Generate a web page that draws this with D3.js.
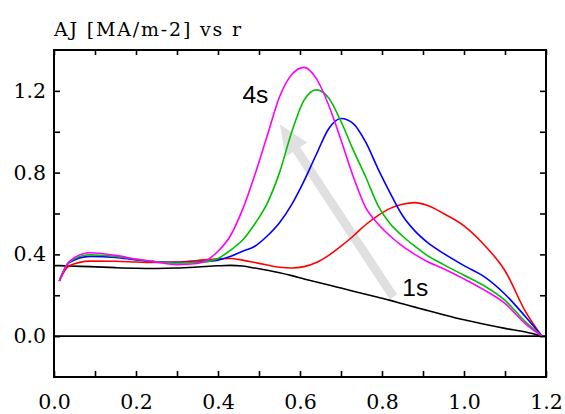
<!DOCTYPE html>
<html><head><meta charset="utf-8">
<script src="https://cdn.jsdelivr.net/npm/d3@7"></script>
<style>
html,body{margin:0;padding:0;background:#fff;}
svg{display:block;}
</style></head>
<body>
<svg id="chart" width="565" height="414"></svg>
<script>
// ---- data ----
const rValues = [0, 0.013, 0.037, 0.088, 0.15, 0.2, 0.25, 0.3, 0.35, 0.4, 0.43, 0.46, 0.49, 0.52, 0.55, 0.58, 0.61, 0.64, 0.67, 0.7, 0.73, 0.76, 0.79, 0.82, 0.85, 0.88, 0.91, 0.95, 1.0, 1.05, 1.1, 1.15, 1.19];
const black   = [0.345, 0.345, 0.343, 0.340, 0.335, 0.332, 0.331, 0.333, 0.338, 0.344, 0.346, 0.343, 0.333, 0.322, 0.310, 0.296, 0.280, 0.265, 0.250, 0.235, 0.220, 0.205, 0.190, 0.175, 0.158, 0.142, 0.126, 0.105, 0.080, 0.058, 0.038, 0.020, 0.0];
const red     = [null, 0.27, 0.344, 0.367, 0.366, 0.363, 0.360, 0.362, 0.370, 0.378, 0.380, 0.372, 0.360, 0.348, 0.337, 0.333, 0.340, 0.360, 0.395, 0.440, 0.490, 0.545, 0.590, 0.625, 0.645, 0.653, 0.640, 0.600, 0.540, 0.445, 0.320, 0.120, 0.0];
const blue    = [null, 0.27, 0.360, 0.390, 0.385, 0.373, 0.364, 0.360, 0.363, 0.372, 0.390, 0.415, 0.440, 0.490, 0.555, 0.645, 0.760, 0.890, 1.015, 1.065, 1.040, 0.950, 0.820, 0.700, 0.590, 0.515, 0.460, 0.405, 0.345, 0.290, 0.205, 0.095, 0.0];
const green   = [null, 0.27, 0.362, 0.398, 0.390, 0.376, 0.364, 0.358, 0.360, 0.380, 0.420, 0.470, 0.550, 0.650, 0.800, 1.000, 1.155, 1.205, 1.165, 1.050, 0.910, 0.780, 0.640, 0.550, 0.490, 0.440, 0.395, 0.350, 0.298, 0.245, 0.175, 0.070, 0.0];
const magenta = [null, 0.27, 0.365, 0.408, 0.395, 0.377, 0.362, 0.350, 0.355, 0.415, 0.490, 0.620, 0.790, 0.980, 1.170, 1.280, 1.315, 1.260, 1.130, 0.960, 0.780, 0.630, 0.550, 0.490, 0.440, 0.400, 0.365, 0.330, 0.280, 0.225, 0.160, 0.060, 0.0];
const seriesNames  = ["1s", "2s", "3s", "3.5s", "4s"];
const seriesColors = ["#000000", "#ff0000", "#0000ff", "#00c000", "#ff00ff"];
const xTickValues = [0, 0.1, 0.2, 0.3, 0.4, 0.5, 0.6, 0.7, 0.8, 0.9, 1.0, 1.1, 1.2];
const xTickLabels = ["0.0", "", "0.2", "", "0.4", "", "0.6", "", "0.8", "", "1.0", "", "1.2"];
const yTickValues = [0, 0.2, 0.4, 0.6, 0.8, 1.0, 1.2];
const yTickLabels = ["0.0", "", "0.4", "", "0.8", "", "1.2"];
const titleText = "AJ [MA/m-2] vs r";
// annotation arrow (data coordinates): from 1s toward 4s
const arrowFrom = [0.828, 0.192];
const arrowTo   = [0.551, 1.035];
const label1s = [0.8495, 0.196];
const label4s = [0.4595, 1.143];

// ---- layout ----
const W = 565, H = 414;
const margin = {left: 54, right: 19, top: 50, bottom: 37};
const svg = d3.select("#chart");
const x = d3.scaleLinear().domain([0, 1.2]).range([margin.left, W - margin.right]);
const y = d3.scaleLinear().domain([-0.2, 1.4]).range([H - margin.bottom, margin.top]);
const tickFont = "'DejaVu Serif', serif";

// zero line
svg.append("line")
  .attr("x1", x(0)).attr("x2", x(1.2))
  .attr("y1", y(0)).attr("y2", y(0))
  .attr("stroke", "#000").attr("stroke-width", 1.6);

// annotation arrow
const ax1 = x(arrowFrom[0]), ay1 = y(arrowFrom[1]), ax2 = x(arrowTo[0]), ay2 = y(arrowTo[1]);
const ang = Math.atan2(ay2 - ay1, ax2 - ax1);
const headLen = 30;
svg.append("line")
  .attr("x1", ax1).attr("y1", ay1)
  .attr("x2", ax2 - Math.cos(ang) * (headLen - 3)).attr("y2", ay2 - Math.sin(ang) * (headLen - 3))
  .attr("stroke", "#e0e0e0").attr("stroke-width", 9);
{
  const bx = ax2 - Math.cos(ang) * headLen, by = ay2 - Math.sin(ang) * headLen;
  const px = -Math.sin(ang), py = Math.cos(ang), hw = 13;
  svg.append("path")
    .attr("d", `M${ax2},${ay2} L${bx + px*hw},${by + py*hw} L${bx - px*hw},${by - py*hw} Z`)
    .attr("fill", "#e0e0e0");
}

// series
const allSeries = [black, red, blue, green, magenta];
const line = d3.line()
  .defined(d => d[1] !== null)
  .x(d => x(d[0])).y(d => y(d[1]))
  .curve(d3.curveMonotoneX);
allSeries.forEach((vals, i) => {
  const pts = rValues.map((rv, j) => [rv, vals[j]]);
  svg.append("path").datum(pts)
    .attr("fill", "none")
    .attr("stroke", seriesColors[i])
    .attr("stroke-width", 1.6)
    .attr("stroke-linejoin", "round")
    .attr("d", line);
});

// labels
svg.append("text").attr("x", x(label4s[0])).attr("y", y(label4s[1]))
  .attr("font-family", "'Liberation Sans', Arial, sans-serif").attr("font-size", 24.5)
  .attr("fill", "#000").text("4s");
svg.append("text").attr("x", x(label1s[0])).attr("y", y(label1s[1]))
  .attr("font-family", "'Liberation Sans', Arial, sans-serif").attr("font-size", 24.5)
  .attr("fill", "#000").text("1s");

// axes
const xb = d3.axisBottom(x).tickValues(xTickValues)
  .tickFormat((d, i) => xTickLabels[i]).tickSizeInner(-6).tickSizeOuter(0).tickPadding(17);
const xt = d3.axisTop(x).tickValues(xTickValues)
  .tickFormat("").tickSizeInner(-5).tickSizeOuter(0);
const yl = d3.axisLeft(y).tickValues(yTickValues)
  .tickFormat((d, i) => yTickLabels[i]).tickSizeInner(-6).tickSizeOuter(0).tickPadding(8);
const yr = d3.axisRight(y).tickValues(yTickValues)
  .tickFormat("").tickSizeInner(-6).tickSizeOuter(0);

function styleAxis(g) {
  g.select(".domain").remove();
  g.selectAll(".tick line").attr("stroke", "#000").attr("stroke-width", 1.6);
  g.selectAll(".tick text").attr("font-family", tickFont).attr("font-size", 20.5).attr("fill", "#000");
}
svg.append("g").attr("transform", `translate(0,${H - margin.bottom})`).call(xb).call(styleAxis);
svg.append("g").attr("transform", `translate(0,${margin.top})`).call(xt).call(styleAxis);
svg.append("g").attr("transform", `translate(${margin.left},0)`).call(yl).call(styleAxis);
svg.append("g").attr("transform", `translate(${W - margin.right},0)`).call(yr).call(styleAxis);

// frame
svg.append("rect")
  .attr("x", margin.left).attr("y", margin.top)
  .attr("width", W - margin.left - margin.right)
  .attr("height", H - margin.top - margin.bottom)
  .attr("fill", "none").attr("stroke", "#000").attr("stroke-width", 2);

// title
svg.append("text").attr("x", 54).attr("y", 36)
  .attr("font-family", tickFont).attr("font-size", 19)
  .attr("textLength", 187).attr("lengthAdjust", "spacing")
  .attr("fill", "#000").text(titleText);
</script>
</body></html>
